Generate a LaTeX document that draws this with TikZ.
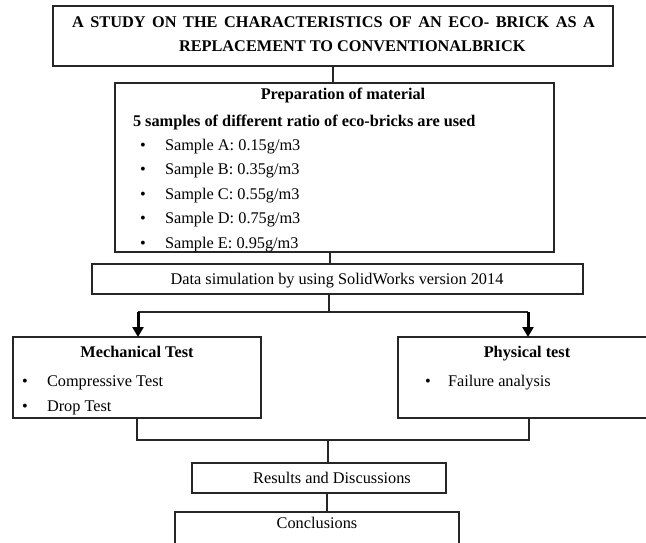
\documentclass[tikz,border=0pt]{standalone}
\usepackage{fontspec}
\setmainfont{Liberation Serif}
\usetikzlibrary{arrows.meta}
\begin{document}
\begin{tikzpicture}[x=1pt,y=-1pt,
  box/.style={draw=black!85, line width=1.2pt, inner sep=0pt, outer sep=0pt, anchor=north west},
  txt/.style={inner sep=0pt, outer sep=0pt, anchor=base, font=\fontsize{16.3}{19}\selectfont},
  btxt/.style={txt, font=\fontsize{16.3}{19}\selectfont\bfseries},
  conn/.style={draw=black!85, line width=1.2pt},
  bigarrow/.style={draw=black, line width=3pt, -{Triangle[width=11pt,length=10pt]}}
]
\useasboundingbox (0,0) rectangle (646,542);

% boxes
\node[box, minimum width=560pt, minimum height=60pt] (title) at (53,6) {};
\node[box, minimum width=439pt, minimum height=169pt] (prep) at (115,83) {};
\node[box, minimum width=491pt, minimum height=30pt] (data) at (92,264) {};
\node[box, minimum width=248pt, minimum height=81pt] (mech) at (13,337) {};
\node[box, minimum width=262pt, minimum height=81pt] (phys) at (398,337) {};
\node[box, minimum width=254pt, minimum height=30pt] (res) at (192,463) {};
\node[box, minimum width=284pt, minimum height=36pt] (conc) at (175,512) {};

% title text
\node[btxt, anchor=base west] (t1) at (72,27) {\makebox[523pt][s]{A STUDY ON THE CHARACTERISTICS OF AN ECO- BRICK AS A}};
\node[btxt, anchor=base west] (t2) at (179,51) {REPLACEMENT TO CONVENTIONALBRICK};

% preparation
\node[btxt] (p0) at (343,99) {Preparation of material};
\node[btxt, anchor=base west] (p1) at (133,126) {5 samples of different ratio of eco-bricks are used};
\node[txt] (bA) at (143,150) {\textbullet};
\node[txt, anchor=base west] (sA) at (165,150) {Sample A: 0.15g/m3};
\node[txt] (bB) at (143,174.5) {\textbullet};
\node[txt, anchor=base west] (sB) at (165,174.5) {Sample B: 0.35g/m3};
\node[txt] (bC) at (143,199) {\textbullet};
\node[txt, anchor=base west] (sC) at (165,199) {Sample C: 0.55g/m3};
\node[txt] (bD) at (143,223.5) {\textbullet};
\node[txt, anchor=base west] (sD) at (165,223.5) {Sample D: 0.75g/m3};
\node[txt] (bE) at (143,248) {\textbullet};
\node[txt, anchor=base west] (sE) at (165,248) {Sample E: 0.95g/m3};

% data simulation
\node[txt] (dtx) at (337,284) {Data simulation by using SolidWorks version 2014};

% mechanical
\node[btxt] (m0) at (137,357) {Mechanical Test};
\node[txt] (mb1) at (25,386) {\textbullet};
\node[txt, anchor=base west] (m1) at (47,386) {Compressive Test};
\node[txt] (mb2) at (25,411) {\textbullet};
\node[txt, anchor=base west] (m2) at (47,411) {Drop Test};

% physical
\node[btxt] (ph0) at (527,357) {Physical test};
\node[txt] (pb1) at (428,386) {\textbullet};
\node[txt, anchor=base west] (ph1) at (448,386) {Failure analysis};

% results / conclusions
\node[txt] (rtx) at (332,483) {Results and Discussions};
\node[txt] (ctx) at (317,528) {Conclusions};

% connectors
\draw[conn] (title.south) -- (title.south |- prep.north);
\coordinate (j0) at (330,0);
\draw[conn] (j0 |- prep.south) -- (j0 |- data.north);
\coordinate (j1) at (329,312);
\draw[conn] (j1 |- data.south) -- (j1);
\coordinate (a1) at (138,312);
\coordinate (a2) at (528,312);
\draw[conn] (a1) -- (a2);
\draw[bigarrow] (a1) -- (a1 |- mech.north);
\draw[bigarrow] (a2) -- (a2 |- phys.north);

\coordinate (b1) at (137,440);
\coordinate (b2) at (529,440);
\coordinate (j2) at (328,440);
\draw[conn] (b1 |- mech.south) -- (b1) -- (b2) -- (b2 |- phys.south);
\draw[conn] (j2) -- (j2 |- res.north);
\coordinate (j3) at (327,0);
\draw[conn] (j3 |- res.south) -- (j3 |- conc.north);
\end{tikzpicture}
\end{document}
